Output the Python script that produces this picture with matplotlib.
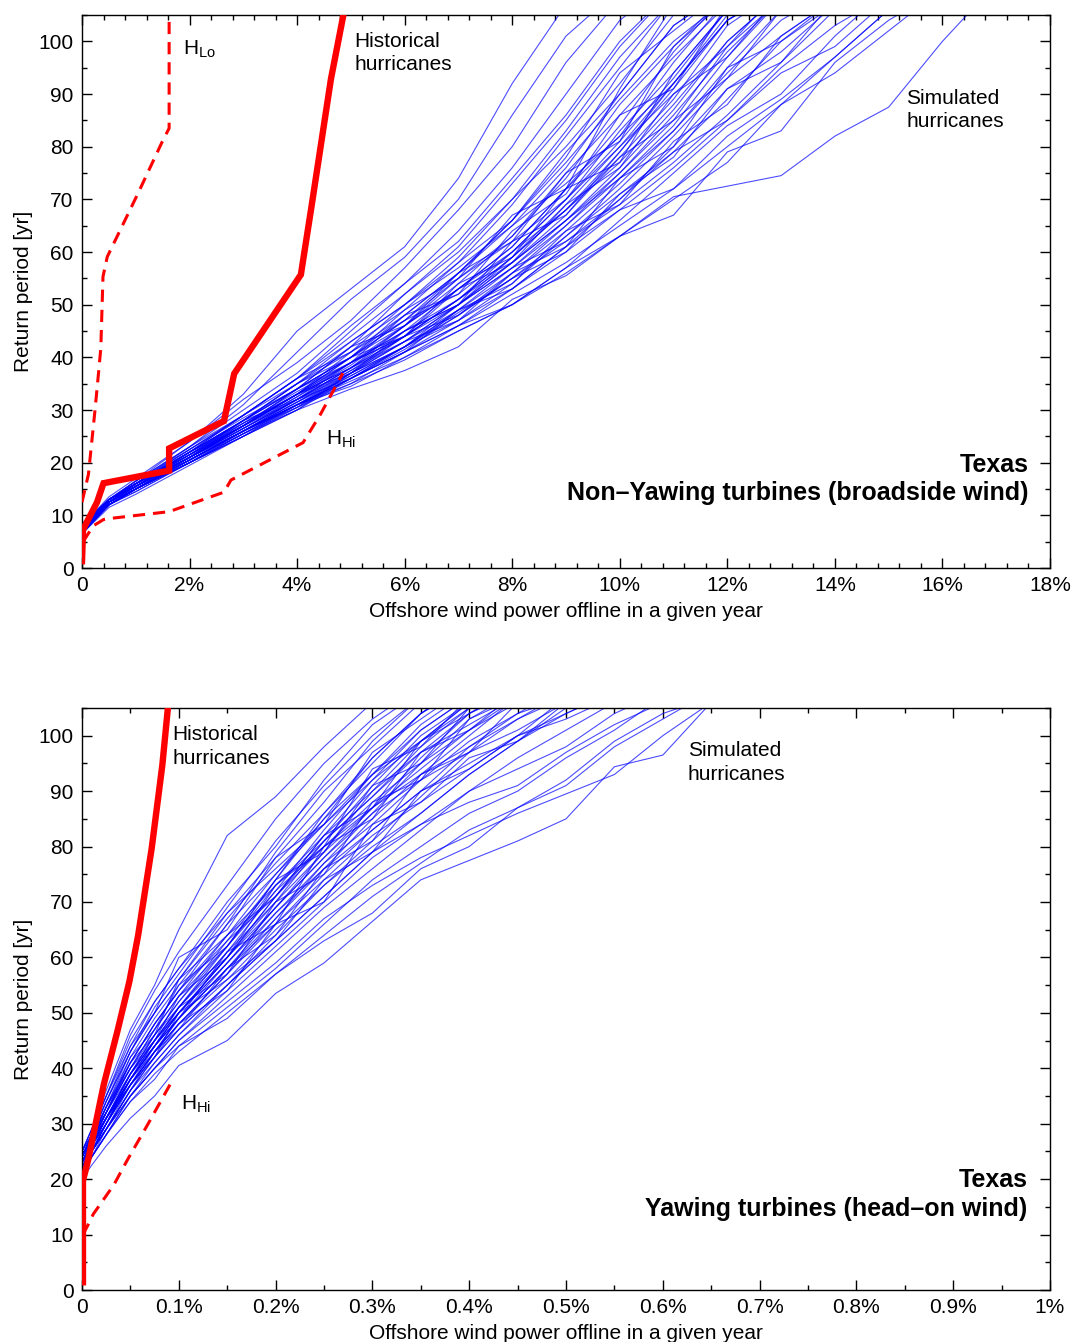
import matplotlib
matplotlib.use("Agg")
import matplotlib.pyplot as plt
from matplotlib.ticker import MultipleLocator, FixedLocator, FixedFormatter

plt.rcParams['font.family'] = ['Liberation Sans', 'DejaVu Sans']
plt.rcParams['mathtext.default'] = 'regular'

# ---------------- Top panel data (x in % offline, y in return period years) ----------------
X_TOP = [0, 0.5, 1, 2, 3, 4, 5, 6, 7, 8, 9, 10, 11, 12, 13, 14, 15, 16, 17]
SIM_TOP = [
    [8, 13, 16.5, 24, 33, 45, 53, 61, 74, 92, 107],
    [7.5, 13, 16, 23, 31, 41, 51, 59, 70, 86, 101, 110],
    [8, 13.5, 17, 24, 32, 39, 47, 57, 68, 80, 96, 108],
    [7, 12.5, 16, 22, 29, 36, 45, 54, 64, 76, 90, 104, 112],
    [7.5, 12.5, 15.5, 22, 28, 35, 42, 52, 61, 73, 85, 99, 110],
    [8.5, 13, 16, 21.5, 28, 34, 42, 49, 58, 69, 82, 95, 108],
    [7, 12, 15, 21, 27, 34, 40, 48, 56, 66, 79, 90, 103, 110],
    [7.5, 12.5, 15.5, 21, 27.5, 33, 39, 46, 55, 63, 74, 88, 99, 109],
    [6.5, 12, 15, 20.5, 26, 32, 38, 45, 53, 61, 72, 82, 96, 108],
    [8, 13, 16, 21.5, 27, 33, 40, 47, 52, 60, 70, 83, 94, 106],
    [7, 12.5, 15.5, 21, 26.5, 32, 37, 43, 50, 59, 68, 79, 91, 104, 110],
    [7.5, 12.5, 15, 20, 25.5, 31, 37, 44, 51, 58, 66, 76, 87, 100, 109],
    [7, 12, 15, 20.5, 26, 31, 36, 42, 48, 56, 65, 74, 84, 97, 108],
    [6.5, 12, 14.5, 20, 25, 30, 36, 41, 47, 54, 63, 72, 82, 93, 106],
    [8, 13, 16, 22, 28, 35, 43, 50, 57, 65, 73, 82, 92, 104, 110],
    [7.5, 12.5, 15.5, 21.5, 27, 33, 41, 47, 55, 62, 70, 80, 92, 105],
    [7, 12.5, 15.5, 21, 27, 33, 38, 46, 54, 63, 75, 86, 97, 107],
    [6.5, 11.5, 14, 19.5, 25, 30, 34, 37.5, 42, 51, 55.5, 63, 70.5, 72.5, 74.5, 82, 87.5, 100, 111],
    [7, 12, 14.5, 20, 25, 30.5, 35, 39.5, 45, 50, 56, 63, 70, 77, 88, 94, 102, 110],
    [7.5, 12, 15, 20, 25.5, 31, 36, 41, 46, 52, 58, 65, 72, 80, 88, 97, 106],
    [7, 12.5, 15, 20.5, 26, 31, 35.5, 40, 45, 50, 57, 66, 75, 84, 90, 101, 110],
    [7.5, 12.5, 15.5, 20.5, 26, 31.5, 37, 42, 47, 53, 61, 70, 80, 91, 98, 107],
    [8, 13, 16, 21, 27, 32, 38, 43, 49, 56, 64, 73, 83, 95, 106],
    [7, 12, 15, 20.5, 26, 31.5, 36.5, 42, 49, 57, 66, 75, 85, 93, 101, 108],
    [7.5, 12.5, 15.5, 21.5, 27, 33, 39, 45, 51, 59, 68, 78, 89, 103, 110],
    [7, 12, 15, 21, 26.5, 32, 38, 44, 51, 60, 70, 81, 93, 106],
    [8, 13, 16, 22, 28, 34, 40, 46, 53, 61, 72, 84, 98, 109],
    [7.5, 12.5, 15.5, 22, 29, 36, 44, 52, 60, 70, 80, 92, 105],
    [7, 12.5, 16, 22.5, 29, 36, 43, 50, 59, 70, 83, 97, 108],
    [7.5, 13, 16.5, 23, 30, 37, 46, 54, 62, 74, 86, 100, 110],
    [8, 13, 16.5, 22.5, 28.5, 34, 40, 47, 56, 66, 77, 89, 100, 108],
    [7, 12, 15, 20.5, 26, 31, 36, 41.5, 48, 55, 62, 69, 77, 86, 96, 106],
    [6.5, 12, 15, 20, 25.5, 30.5, 36, 41, 46, 53, 60, 68, 76, 85, 95, 103, 109],
    [7.5, 12.5, 15.5, 21, 26.5, 32.5, 39, 45, 50, 57, 65, 75, 86, 98, 108],
    [7, 12, 15, 21, 27, 32.5, 38.5, 46, 53, 60, 68, 77, 88, 100, 109],
    [8, 13, 16, 21.5, 27.5, 33.5, 39, 44, 50, 58, 67, 79, 92, 104, 110],
    [7.5, 12.5, 15.5, 21, 26, 31, 36.5, 42, 48.5, 55, 63, 71, 79, 89, 100, 107],
    [7, 12.5, 16, 22, 28, 35, 41, 48, 56, 65, 76, 90, 103, 110],
    [7.5, 12, 15, 20.5, 26, 32, 37.5, 43, 50, 58, 66, 74, 83, 94, 104, 110],
    [8, 13, 16, 22, 27.5, 33, 38, 44, 51, 59, 69, 80, 90, 99, 108],
    [7, 12, 15, 20, 26, 31, 35, 41, 49, 54, 64, 69, 81, 88, 101, 108],
    [8, 13, 16, 21, 27, 33, 37, 45, 50, 62, 67, 78, 85, 99, 110],
    [7.5, 12.5, 15, 21, 26, 30.5, 37, 43, 47, 56, 61, 74, 80, 95, 100, 108],
    [7, 12.5, 16, 22, 27, 34, 39, 44, 54, 59, 72, 77, 94, 106],
    [8, 13, 15.5, 21, 28, 32, 39, 48, 52, 64, 71, 86, 91, 107],
    [7, 12, 15, 20, 25, 31, 34.5, 40, 46, 50, 57, 63, 67, 79, 83, 96, 104, 110],
    [7.5, 13, 16, 22.5, 29, 35, 40, 49, 55, 67, 72, 91, 107],
    [6.5, 12, 15, 20.5, 25.5, 30, 37, 42, 50, 57, 62, 70, 79, 85, 94, 99, 108],
    [7.5, 12.5, 15.5, 21, 27, 33, 40, 44, 53, 58, 69, 76, 90, 97, 109],
    [8, 13, 16.5, 23, 29, 36, 41, 50, 58, 66, 78, 94, 102, 110],
    [7, 12, 15, 20.5, 26, 31.5, 37.5, 44, 48, 55, 60, 71, 78, 91, 96, 108],
    [7.5, 12.5, 16, 21.5, 28, 34, 42, 46, 56, 62, 75, 81, 99, 108],
    [7, 12.5, 15.5, 21, 26.5, 32, 36, 42, 49, 53, 61, 68, 72, 82, 89, 97, 106],
]
HIST_TOP_X = [0.0, 0.02, 0.28, 0.40, 1.62, 1.62, 2.64, 2.83, 4.07, 4.27, 4.63, 4.87]
HIST_TOP_Y = [1.3, 7.3, 12.5, 16.1, 18.5, 22.7, 27.9, 36.9, 55.7, 68.8, 92.9, 105.5]
HLO_TOP_X = [0.0, 0.12, 0.18, 0.24, 0.31, 0.35, 0.39, 0.47, 1.04, 1.49, 1.62, 1.62]
HLO_TOP_Y = [12.5, 17.8, 23.8, 29.8, 37.3, 41.8, 55.3, 59.1, 71.1, 80.9, 83.5, 106]
HHI_TOP_X = [0.02, 0.21, 0.40, 0.60, 1.62, 2.64, 2.77, 4.11, 4.43, 4.85]
HHI_TOP_Y = [5.0, 8.0, 9.2, 9.5, 10.7, 14.4, 16.7, 23.8, 29.1, 37.0]

# ---------------- Bottom panel data ----------------
X_BOT = [0, 0.01, 0.025, 0.05, 0.075, 0.1, 0.15, 0.2, 0.25, 0.3, 0.35, 0.4, 0.45, 0.5, 0.55, 0.6, 0.65]
SIM_BOT = [
    [25, 29, 36, 47, 55, 65, 82, 89, 98, 106],
    [24, 28, 35, 46, 54, 61, 73, 85, 95, 103, 109],
    [25, 28, 34, 44, 52, 58, 70, 80, 92, 102, 108],
    [23, 27, 33, 43, 50, 56, 68, 78, 88, 99, 107],
    [24, 27, 32, 41, 48, 54, 66, 79, 90, 98, 106],
    [22, 26, 32, 40, 47, 53, 64, 75, 85, 96, 104, 110],
    [23, 27, 32, 40, 46, 52, 62, 73, 82, 92, 101, 107],
    [24, 27, 31, 39, 45, 51, 61, 70, 81, 89, 98, 105],
    [22, 25, 30, 38, 44, 50, 59, 69, 78, 87, 96, 104, 109],
    [23, 26, 31, 38, 44, 49, 58, 67, 76, 85, 93, 100, 107],
    [21, 25, 30, 37, 43, 48, 57, 66, 75, 83, 90, 98, 104, 109],
    [22, 25, 29, 36, 42, 47, 55, 64, 73, 81, 89, 97, 103, 108],
    [23, 26, 30, 37, 42, 48, 57, 67, 77, 86, 95, 103, 108],
    [24, 27, 31, 38, 44, 50, 60, 71, 81, 91, 100, 106],
    [22, 26, 31, 39, 46, 52, 63, 74, 86, 95, 104, 109],
    [21, 24, 29, 36, 41, 46, 55, 63, 71, 79, 86, 93, 99, 104, 108],
    [22, 25, 29, 35, 40, 45, 53, 61, 69, 76, 83, 90, 96, 101, 106],
    [20, 22.5, 26, 31, 35, 40.5, 45, 53.5, 59, 66.5, 74, 77.5, 81, 85, 94.4, 96.5, 106],
    [21, 24, 28, 34, 39, 43, 50, 57, 64, 71, 77, 83, 87, 91, 98, 103, 108],
    [21, 24, 28, 35, 40, 44, 51, 58, 66, 74, 80, 86, 90, 96, 101, 107],
    [22, 25, 29, 35, 41, 46, 54, 62, 70, 78, 84, 90, 94, 98, 104, 108],
    [23, 26, 30, 37, 43, 49, 58, 68, 76, 83, 90, 95, 100, 104, 108],
    [24, 28, 33, 42, 49, 55, 66, 75, 84, 92, 99, 104, 108],
    [23, 27, 32, 40, 47, 53, 62, 72, 80, 88, 95, 101, 106],
    [22, 25, 30, 38, 45, 51, 61, 72, 83, 93, 102, 108],
    [24, 28, 34, 43, 50, 56, 67, 77, 86, 96, 104, 110],
    [25, 29, 35, 45, 52, 58, 68, 76, 84, 93, 101, 107],
    [23, 26, 31, 39, 45, 51, 62, 74, 85, 93, 99, 105],
    [22, 26, 31, 38, 44, 50, 60, 69, 79, 90, 99, 106],
    [23, 27, 32, 41, 48, 54, 64, 73, 81, 89, 97, 104, 109],
    [21, 25, 30, 37, 43, 49, 59, 68, 77, 84, 92, 99, 104, 107],
    [22, 25, 29, 37, 43, 48, 56, 65, 73, 80, 86, 93, 99, 105],
    [24, 27, 32, 39, 46, 51, 60, 70, 79, 87, 94, 101, 107],
    [23, 26, 31, 38, 44, 49, 58, 66, 74, 82, 88, 94, 100, 103, 107],
    [21, 24, 28, 35, 40, 45, 52, 59, 67, 73, 78, 82, 86, 89.5, 93, 100, 106],
    [22, 25, 29, 36, 42, 47, 55, 63, 71, 79, 84, 88, 91, 97, 102, 106],
    [23, 26, 31, 38, 45, 50, 59, 69, 78, 86, 92, 97, 101, 106],
    [24, 28, 33, 41, 48, 54, 63, 71, 80, 87, 93, 98, 103, 107],
    [22, 26, 31, 39, 45, 50, 60, 71, 82, 90, 97, 102, 107],
    [25, 28, 34, 43, 51, 57, 69, 81, 91, 100, 107],
    [23, 27, 33, 40, 45, 53, 60, 73, 80, 94, 98, 107],
    [22, 26, 30, 39, 44, 49, 61, 66, 80, 85, 97, 101, 108],
    [24, 28, 32, 42, 47, 55, 62, 74, 79, 91, 95, 105],
    [21, 25, 29, 36, 43, 47, 58, 64, 76, 81, 93, 97, 106],
    [23, 26, 31, 37, 44, 51, 57, 70, 75, 88, 92, 103, 107],
    [22, 25, 30, 38, 43, 48, 54, 66, 70, 84, 88, 96, 99, 106],
    [24, 27, 33, 41, 46, 56, 64, 71, 82, 87, 99, 106],
    [21, 24, 28, 34, 38, 44, 49, 57, 63, 68, 76, 80, 87, 92, 99, 104, 107],
    [25, 29, 35, 44, 50, 60, 65, 78, 84, 97, 103, 109],
    [22, 26, 31, 37, 42, 50, 56, 63, 74, 79, 90, 94, 100, 107],
]
HIST_BOT_X = [0.001, 0.001, 0.0064, 0.0224, 0.0366, 0.049, 0.058, 0.072, 0.083, 0.089]
HIST_BOT_Y = [1.4, 19.7, 23.5, 37.0, 46.7, 55.7, 64.0, 79.7, 94.7, 105.5]
HHI_BOT_X = [0.001, 0.0064, 0.0117, 0.033, 0.047, 0.069, 0.092]
HHI_BOT_Y = [10.0, 11.8, 13.7, 19.0, 23.5, 30.2, 37.4]

XT_TOP = [0, 2, 4, 6, 8, 10, 12, 14, 16, 18]
XT_TOP_LABELS = ['0', '2%', '4%', '6%', '8%', '10%', '12%', '14%', '16%', '18%']
XT_BOT = [0, 0.1, 0.2, 0.3, 0.4, 0.5, 0.6, 0.7, 0.8, 0.9, 1.0]
XT_BOT_LABELS = ['0', '0.1%', '0.2%', '0.3%', '0.4%', '0.5%', '0.6%', '0.7%', '0.8%', '0.9%', '1%']
YT = [0, 10, 20, 30, 40, 50, 60, 70, 80, 90, 100]

fig = plt.figure(figsize=(10.75, 13.42), dpi=100)
ax1 = fig.add_axes([82/1075, 1 - 568/1342, 968/1075, 553/1342])
ax2 = fig.add_axes([82/1075, 1 - 1290/1342, 968/1075, 582/1342])

BLUE = dict(color='#0000ff', lw=0.8, alpha=0.7, zorder=2)
RED_THICK = dict(color='#ff0000', lw=4.6, zorder=4, solid_joinstyle='miter')
RED_DASH = dict(color='#ff0000', lw=2.2, ls=(0, (4, 2.6)), zorder=4)
FS = 15
FSB = 18

def style(ax, xt, xtl, xminor, xmax):
    ax.set_xlim(0, xmax)
    ax.set_ylim(0, 105)
    ax.xaxis.set_major_locator(FixedLocator(xt))
    ax.xaxis.set_major_formatter(FixedFormatter(xtl))
    ax.xaxis.set_minor_locator(MultipleLocator(xminor))
    ax.yaxis.set_major_locator(FixedLocator(YT))
    ax.yaxis.set_minor_locator(MultipleLocator(5))
    ax.tick_params(which='both', direction='in', top=True, right=True, labelsize=FS, width=1.0)
    ax.tick_params(which='major', length=7, pad=6)
    ax.tick_params(which='minor', length=3.5)
    for s in ax.spines.values():
        s.set_linewidth(1.0)
    ax.set_xlabel('Offshore wind power offline in a given year', fontsize=FS, labelpad=5)
    ax.set_ylabel('Return period [yr]', fontsize=FS, labelpad=4)

# Top panel
for ys in SIM_TOP:
    ax1.plot(X_TOP[:len(ys)], ys, **BLUE)
ax1.plot(HIST_TOP_X, HIST_TOP_Y, **RED_THICK)
ax1.plot(HLO_TOP_X, HLO_TOP_Y, **RED_DASH)
ax1.plot(HHI_TOP_X, HHI_TOP_Y, **RED_DASH)
style(ax1, XT_TOP, XT_TOP_LABELS, 0.4, 18)
ax1.text(5.07, 101.8, 'Historical\nhurricanes', fontsize=FS, va='top', ha='left', linespacing=1.3)
ax1.text(15.33, 91.0, 'Simulated\nhurricanes', fontsize=FS, va='top', ha='left', linespacing=1.3)
ax1.text(1.88, 97.5, 'H$_{Lo}$', fontsize=FS, va='baseline', ha='left')
ax1.text(4.54, 23.4, 'H$_{Hi}$', fontsize=FS, va='baseline', ha='left')
ax1.text(17.6, 18.3, 'Texas', fontsize=FSB, fontweight='bold', ha='right', va='baseline')
ax1.text(17.6, 12.9, 'Non\u2013Yawing turbines (broadside wind)', fontsize=FSB, fontweight='bold',
         ha='right', va='baseline')

# Bottom panel
for ys in SIM_BOT:
    ax2.plot(X_BOT[:len(ys)], ys, **BLUE)
ax2.plot(HIST_BOT_X, HIST_BOT_Y, **RED_THICK)
ax2.plot(HHI_BOT_X, HHI_BOT_Y, **RED_DASH)
style(ax2, XT_BOT, XT_BOT_LABELS, 0.05, 1.0)
ax2.text(0.093, 101.9, 'Historical\nhurricanes', fontsize=FS, va='top', ha='left', linespacing=1.3)
ax2.text(0.626, 99.0, 'Simulated\nhurricanes', fontsize=FS, va='top', ha='left', linespacing=1.3)
ax2.text(0.102, 32.5, 'H$_{Hi}$', fontsize=FS, va='baseline', ha='left')
ax2.text(0.977, 18.6, 'Texas', fontsize=FSB, fontweight='bold', ha='right', va='baseline')
ax2.text(0.977, 13.4, 'Yawing turbines (head\u2013on wind)', fontsize=FSB, fontweight='bold',
         ha='right', va='baseline')

fig.savefig('out.png', dpi=100)
